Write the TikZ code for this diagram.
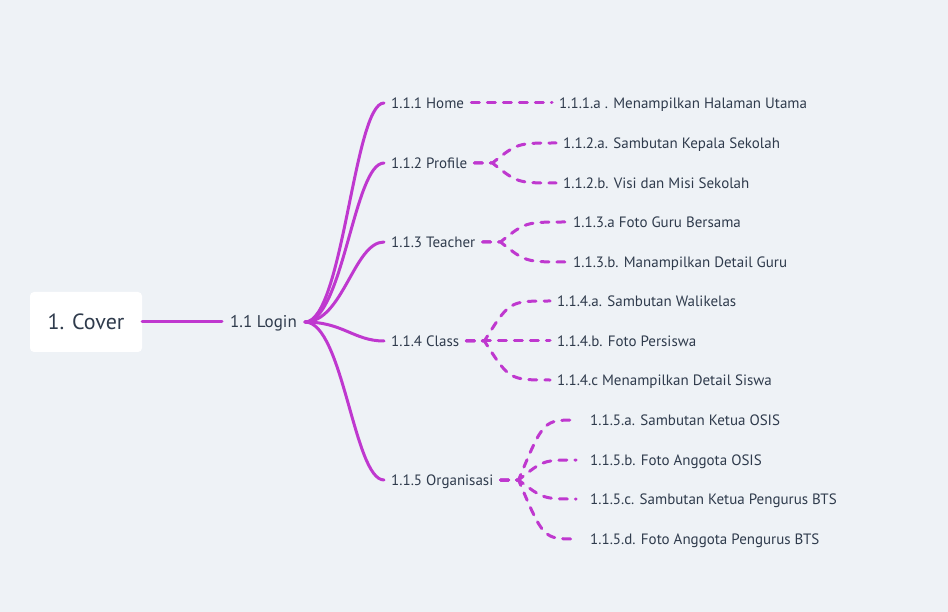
\documentclass[tikz,border=0pt]{standalone}
\usepackage{fontspec}
\setmainfont{PT Sans}
\usepackage{xcolor}
\usetikzlibrary{calc}
\definecolor{bg}{HTML}{EEF2F6}
\definecolor{link}{HTML}{BF38CF}
\definecolor{ink}{HTML}{2F3B4C}

\begin{document}
\begin{tikzpicture}[x=1pt,y=-1pt,
    topic/.style={text=ink,inner ysep=0pt,inner xsep=7pt,anchor=west,
        text height=10.5pt,text depth=0pt,font=\fontsize{15}{18}\selectfont},
    leaf/.style={topic},
    solidlink/.style={draw=link,line width=3pt,line cap=round},
    dashlink/.style={draw=link,line width=3pt,line cap=round,dash pattern=on 8pt off 8pt}]
    \useasboundingbox[fill=bg] (0,0) rectangle (948,612);
    % root and first level
    \node[fill=white,rounded corners=4pt,minimum width=112pt,minimum height=60pt,
        text=ink,font=\fontsize{22}{26}\selectfont] (cover) at (86,322) {1. Cover};
    \node[topic,font=\fontsize{17}{20}\selectfont,text height=12pt,inner xsep=8pt] (login) at (222,322) {1.1 Login};
    \draw[solidlink] (cover) -- (login);
    % second level
    \node[topic] (home) at (384,103) {1.1.1 Home};
    \node[topic] (profile) at (384,163) {1.1.2 Profile};
    \node[topic] (teacher) at (384,242) {1.1.3 Teacher};
    \node[topic] (class) at (384,341) {1.1.4 Class};
    \node[topic] (org) at (384,480) {1.1.5 Organisasi};
    \foreach \t in {home,profile,teacher,class,org}
        \draw[solidlink] (login.east) .. controls +(38,0) and +(-30,0) .. (\t.west);
    % leaves
    \node[leaf] (home a) at (552,103) {1.1.1.a . Menampilkan Halaman Utama};
    \node[leaf] (profile a) at (556,143) {1.1.2.a. Sambutan Kepala Sekolah};
    \node[leaf] (profile b) at (556,183) {1.1.2.b. Visi dan Misi Sekolah};
    \node[leaf] (teacher a) at (566,222) {1.1.3.a Foto Guru Bersama};
    \node[leaf] (teacher b) at (566,262) {1.1.3.b. Manampilkan Detail Guru};
    \node[leaf] (class a) at (550,301) {1.1.4.a. Sambutan Walikelas};
    \node[leaf] (class b) at (550,341) {1.1.4.b. Foto Persiswa};
    \node[leaf] (class c) at (550,380) {1.1.4.c Menampilkan Detail Siswa};
    \node[leaf,inner xsep=14pt] (org a) at (576,420) {1.1.5.a. Sambutan Ketua OSIS};
    \node[leaf,inner xsep=14pt] (org b) at (576,460) {1.1.5.b. Foto Anggota OSIS};
    \node[leaf,inner xsep=14pt] (org c) at (576,499) {1.1.5.c. Sambutan Ketua Pengurus BTS};
    \node[leaf,inner xsep=14pt] (org d) at (576,539) {1.1.5.d. Foto Anggota Pengurus BTS};
    \draw[dashlink] (home.east) -- (home a.west);
    % branch points
    \coordinate (P) at ([xshift=18pt]profile.east);
    \coordinate (T) at ([xshift=18pt]teacher.east);
    \coordinate (C) at ([xshift=18pt]class.east);
    \coordinate (O) at ([xshift=18pt]org.east);
    \foreach \b/\t/\l in {P/profile/profile a,P/profile/profile b,
        T/teacher/teacher a,T/teacher/teacher b,
        C/class/class a,C/class/class b,C/class/class c,
        O/org/org a,O/org/org b,O/org/org c,O/org/org d}
        \draw[dashlink] (\t.east) -- (\b) .. controls ($(\b |- \l.west)+(25,0)$) .. (\l.west);
\end{tikzpicture}
\end{document}
